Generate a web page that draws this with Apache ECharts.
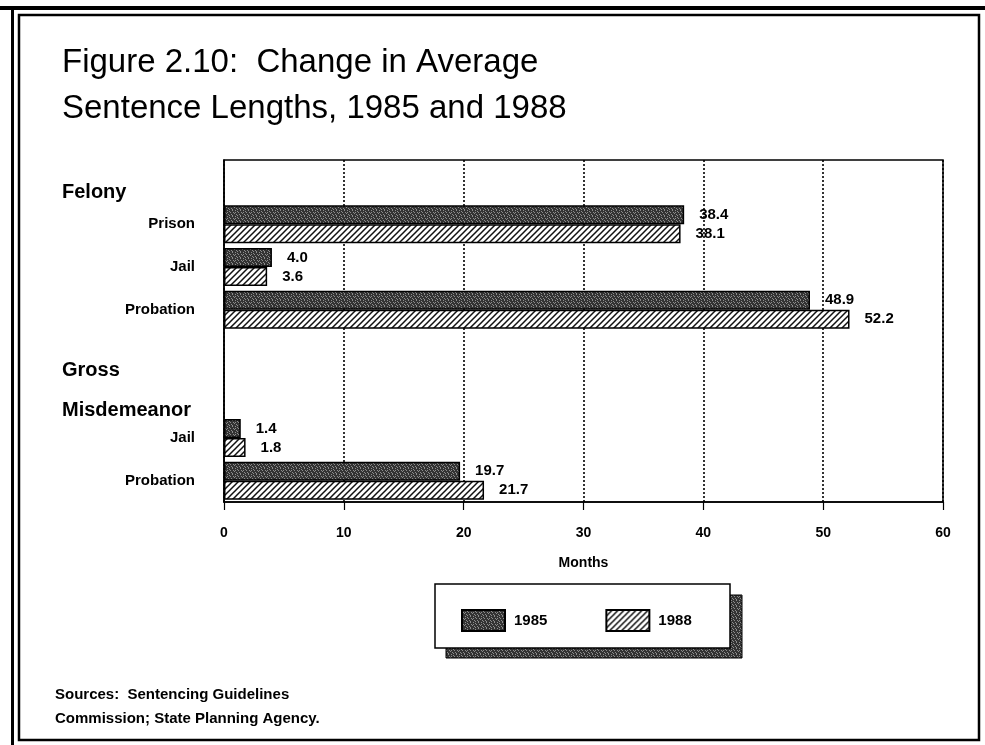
<!DOCTYPE html>
<html>
<head>
<meta charset="utf-8">
<script src="https://cdn.jsdelivr.net/npm/echarts@6/dist/echarts.min.js"></script>
<style>
html,body{margin:0;padding:0;background:#fff;}
#chart{width:985px;height:745px;}
</style>
</head>
<body>
<div id="chart"></div>
<script>
// ---- data ----
var categories = ['', 'Prison', 'Jail', 'Probation', '', '', 'Jail', 'Probation'];
var values1985 = [null, 38.4, 4.0, 48.9, null, null, 1.4, 19.7];
var values1988 = [null, 38.1, 3.6, 52.2, null, null, 1.8, 21.7];
var seriesNames = ['1985', '1988'];
var xTicks = [0, 10, 20, 30, 40, 50, 60];
var titleLines = ['Figure 2.10:  Change in Average', 'Sentence Lengths, 1985 and 1988'];
var groupHeaders = ['Felony', 'Gross', 'Misdemeanor'];
var xAxisName = 'Months';
var sourceLines = ['Sources:  Sentencing Guidelines', 'Commission; State Planning Agency.'];

// ---- patterns ----
function stipple() {
  var c = document.createElement('canvas');
  c.width = 8; c.height = 6;
  var g = c.getContext('2d');
  g.fillStyle = '#333333';
  g.fillRect(0, 0, 8, 6);
  g.fillStyle = '#8c8c8c';
  var pts = [[0,0],[3,0],[5,1],[1,2],[6,2],[2,3],[4,4],[7,4],[0,5],[5,5],[3,2]];
  pts.forEach(function (p) { g.fillRect(p[0], p[1], 1, 1); });
  return c;
}
function hatch() {
  var c = document.createElement('canvas');
  c.width = 6; c.height = 6;
  var g = c.getContext('2d');
  g.fillStyle = '#ffffff';
  g.fillRect(0, 0, 6, 6);
  g.strokeStyle = '#111';
  g.lineWidth = 1.5;
  g.beginPath();
  g.moveTo(-1, 7); g.lineTo(7, -1);
  g.moveTo(-1, 1); g.lineTo(1, -1);
  g.moveTo(5, 7); g.lineTo(7, 5);
  g.stroke();
  return c;
}
var fill1985 = { image: stipple(), repeat: 'repeat' };
var fill1988 = { image: hatch(), repeat: 'repeat' };

var FONT = '"Liberation Sans", Arial, Helvetica, sans-serif';

var chart = echarts.init(document.getElementById('chart'), null, { renderer: 'canvas' });

function labelCfg() {
  return {
    show: true, position: 'right', distance: 15,
    color: '#000', fontFamily: FONT, fontWeight: 'bold', fontSize: 15,
    formatter: function (p) { return p.value == null ? '' : Number(p.value).toFixed(1); }
  };
}

var option = {
  backgroundColor: '#fff',
  animation: false,
  grid: { left: 224, right: 42, top: 160, bottom: 243, show: true, borderColor: '#000', borderWidth: 1.5 },
  xAxis: {
    type: 'value', min: xTicks[0], max: xTicks[xTicks.length - 1], interval: 10,
    name: xAxisName, nameLocation: 'middle', nameGap: 54,
    nameTextStyle: { color: '#000', fontFamily: FONT, fontWeight: 'bold', fontSize: 14 },
    axisLine: { show: true, lineStyle: { color: '#000', width: 1.5 } },
    axisTick: { show: true, length: 8, lineStyle: { color: '#000', width: 1.2 } },
    axisLabel: { color: '#000', fontFamily: FONT, fontWeight: 'bold', fontSize: 14, margin: 24 },
    splitLine: { show: true, lineStyle: { color: '#000', type: [2, 2], width: 1.6 } }
  },
  yAxis: {
    type: 'category', data: categories, inverse: true,
    axisLine: { show: true, lineStyle: { color: '#000', width: 1.5 } },
    axisTick: { show: false },
    axisLabel: { color: '#000', fontFamily: FONT, fontWeight: 'bold', fontSize: 15, margin: 29 },
    splitLine: { show: false }
  },
  legend: {
    data: seriesNames, left: 456, top: 604, itemWidth: 43, itemHeight: 21, itemGap: 58,
    textStyle: { color: '#000', fontFamily: FONT, fontWeight: 'bold', fontSize: 15, padding: [4, 0, 0, 4] },
    icon: 'rect', selectedMode: false
  },
  series: [
    {
      name: seriesNames[0], type: 'bar', data: values1985, barWidth: 19, barGap: '0%',
      itemStyle: { color: fill1985, borderColor: '#000', borderWidth: 1.5 },
      label: labelCfg()
    },
    {
      name: seriesNames[1], type: 'bar', data: values1988, barWidth: 19, barGap: '0%',
      itemStyle: { color: fill1988, borderColor: '#000', borderWidth: 1.5 },
      label: labelCfg()
    }
  ],
  graphic: [
    // page frame
    { type: 'rect', shape: { x: 0, y: 6, width: 985, height: 4 }, style: { fill: '#000' }, z: 100 },
    { type: 'rect', shape: { x: 11, y: 6, width: 3, height: 739 }, style: { fill: '#000' }, z: 100 },
    { type: 'rect', shape: { x: 19, y: 15, width: 960, height: 725 }, style: { fill: null, stroke: '#000', lineWidth: 2.5 }, z: 100 },
    // title
    { type: 'text', left: 62, top: 46, style: { text: titleLines[0], fill: '#000', font: '33px ' + FONT } },
    { type: 'text', left: 62, top: 92, style: { text: titleLines[1], fill: '#000', font: '33px ' + FONT } },
    // group headers
    { type: 'text', left: 62, top: 182, style: { text: groupHeaders[0], fill: '#000', font: 'bold 20px ' + FONT } },
    { type: 'text', left: 62, top: 360, style: { text: groupHeaders[1], fill: '#000', font: 'bold 20px ' + FONT } },
    { type: 'text', left: 62, top: 400, style: { text: groupHeaders[2], fill: '#000', font: 'bold 20px ' + FONT } },
    // legend frame with shadow
    { type: 'rect', shape: { x: 446, y: 595, width: 296, height: 63 }, style: { fill: fill1985, stroke: '#000', lineWidth: 1 }, z: -1 },
    { type: 'rect', shape: { x: 435, y: 584, width: 295, height: 64 }, style: { fill: '#fff', stroke: '#000', lineWidth: 1.5 }, z: 0 },
    // sources
    { type: 'text', left: 55, top: 687, style: { text: sourceLines[0], fill: '#000', font: 'bold 15px ' + FONT } },
    { type: 'text', left: 55, top: 711, style: { text: sourceLines[1], fill: '#000', font: 'bold 15px ' + FONT } }
  ]
};
chart.setOption(option);
</script>
</body>
</html>
